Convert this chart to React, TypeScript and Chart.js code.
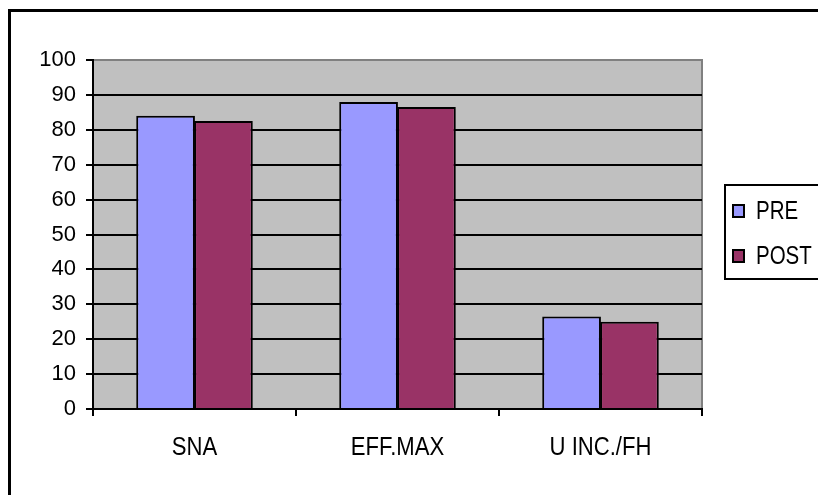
import React, { useEffect, useRef } from "react";
import { Chart, registerables } from "chart.js";
Chart.register(...registerables);

const categories = ["SNA", "EFF.MAX", "U INC./FH"];
const preValues = [84, 88, 26.5];
const postValues = [82.5, 86.5, 25];
const seriesNames = ["PRE", "POST"];
const seriesColors = ["#9999FF", "#993366"];
const yMin = 0;
const yMax = 100;
const yStep = 10;

const FONT = "'Liberation Sans', Arial, sans-serif";
const W = 818;
const H = 495;

function drawNarrow(ctx: any, text: string, x: number, y: number, size: number, squeeze: number, align: string) {
  ctx.save();
  ctx.translate(x, y);
  ctx.scale(squeeze, 1);
  ctx.font = `${size}px ${FONT}`;
  ctx.fillStyle = "#000";
  ctx.textBaseline = "middle";
  ctx.textAlign = align;
  ctx.fillText(text, 0, 0);
  ctx.restore();
}

const framePlugin = {
  id: "frame",
  beforeDraw(chart: any) {
    const { ctx, chartArea: a } = chart;
    ctx.save();
    ctx.fillStyle = "#ffffff";
    ctx.fillRect(0, 0, chart.width, chart.height);
    ctx.fillStyle = "#C0C0C0";
    ctx.fillRect(a.left, a.top, a.right - a.left, a.bottom - a.top);
    ctx.strokeStyle = "#808080";
    ctx.lineWidth = 2;
    ctx.beginPath();
    ctx.moveTo(a.left, a.top);
    ctx.lineTo(a.right, a.top);
    ctx.lineTo(a.right, a.bottom);
    ctx.stroke();
    ctx.strokeStyle = "#000000";
    ctx.lineWidth = 3;
    ctx.strokeRect(9.5, 10.5, chart.width + 20, chart.height + 20);
    ctx.restore();
  },
  afterDraw(chart: any) {
    const { ctx } = chart;
    const xs = chart.scales.x;
    // category labels (horizontally condensed like the original)
    chart.data.labels.forEach((lab: string, i: number) => {
      drawNarrow(ctx, lab, xs.getPixelForValue(i), 448, 26, 0.85, "center");
    });
    // legend
    ctx.save();
    ctx.strokeStyle = "#000000";
    ctx.lineWidth = 2;
    ctx.strokeRect(725, 185, 120, 94);
    const rows = [211, 256];
    chart.data.datasets.forEach((ds: any, i: number) => {
      const y = rows[i];
      ctx.fillStyle = ds.backgroundColor;
      ctx.fillRect(733, y - 6, 11, 12);
      ctx.lineWidth = 2;
      ctx.strokeStyle = "#000";
      ctx.strokeRect(733, y - 6, 11, 12);
      drawNarrow(ctx, ds.label, 756, y + 1, 25, 0.82, "left");
    });
    ctx.restore();
  },
};

export default function App() {
  const ref = useRef<HTMLCanvasElement | null>(null);
  useEffect(() => {
    if (!ref.current) return;
    const chart = new Chart(ref.current, {
      type: "bar",
      data: {
        labels: categories,
        datasets: [
          {
            label: seriesNames[0],
            data: preValues,
            backgroundColor: seriesColors[0],
            borderColor: "#000000",
            borderWidth: 2,
            categoryPercentage: 0.57,
            barPercentage: 1.015,
          },
          {
            label: seriesNames[1],
            data: postValues,
            backgroundColor: seriesColors[1],
            borderColor: "#000000",
            borderWidth: 2,
            categoryPercentage: 0.57,
            barPercentage: 1.015,
          },
        ],
      },
      options: {
        responsive: false,
        animation: false,
        devicePixelRatio: 1,
        layout: { padding: { left: 0, right: 116, top: 60, bottom: 0 } },
        plugins: { legend: { display: false }, tooltip: { enabled: false } },
        scales: {
          x: {
            offset: true,
            grid: {
              offset: true,
              drawOnChartArea: false,
              drawTicks: true,
              tickLength: 7,
              color: "#000000",
              tickColor: "#000000",
              lineWidth: 2,
            },
            border: { display: true, color: "#000000", width: 2 },
            ticks: { color: "rgba(0,0,0,0)", font: { family: FONT, size: 26 }, padding: 17, maxRotation: 0 },
            afterFit(scale: any) {
              scale.height = 86;
            },
          },
          y: {
            min: yMin,
            max: yMax,
            grid: {
              color: (c: any) => (c.tick && c.tick.value === yMax ? "rgba(0,0,0,0)" : "#000000"),
              tickColor: "#000000",
              lineWidth: 2,
              tickLength: 7,
            },
            border: { display: true, color: "#000000", width: 2 },
            ticks: { stepSize: yStep, color: "#000000", font: { family: FONT, size: 22 }, padding: 10 },
            afterFit(scale: any) {
              scale.width = 93;
            },
          },
        },
      },
      plugins: [framePlugin],
    } as any);
    return () => chart.destroy();
  }, []);
  return (
    <div style={{ position: "absolute", left: 0, top: 0, width: W, height: H }}>
      <canvas ref={ref} width={W} height={H} style={{ width: W, height: H, display: "block" }} />
    </div>
  );
}
